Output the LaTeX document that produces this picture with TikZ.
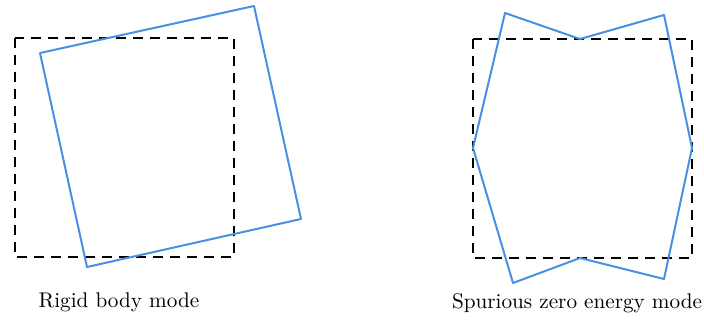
\documentclass[tikz,border=0pt]{standalone}
\usepackage{tikz}
\usetikzlibrary{positioning,calc}
\definecolor{modeblue}{RGB}{74,144,226}
\tikzset{undeformed/.style={color=black,line width=1pt,dash pattern=on 5pt off 3.5pt,line join=round},
  deformed/.style={color=modeblue,line width=1pt,line join=round},
  caption/.style={font=\fontsize{10.6}{12}\selectfont}}

\begin{document}
\begin{tikzpicture}[x=0.5pt,y=-0.5pt]
\useasboundingbox (0,0) rectangle (704,320);
% rigid body mode
\draw[undeformed] (15,38) rectangle (234,257);
\draw[deformed] (40,53) -- (254,6) -- (301,219) -- (87,267) -- cycle;
\node[caption] (rigid) at (119,302) {Rigid body mode};
% spurious zero energy mode
\draw[undeformed] (473,39) rectangle (692,258);
\draw[deformed] (505,13) -- (580,39) -- (664,15) -- (692,148) -- (664,279)
  -- (580,258) -- (513,283) -- (473,148) -- cycle;
\node[caption] (spurious) at (577,303) {Spurious zero energy mode};
\end{tikzpicture}
\end{document}
